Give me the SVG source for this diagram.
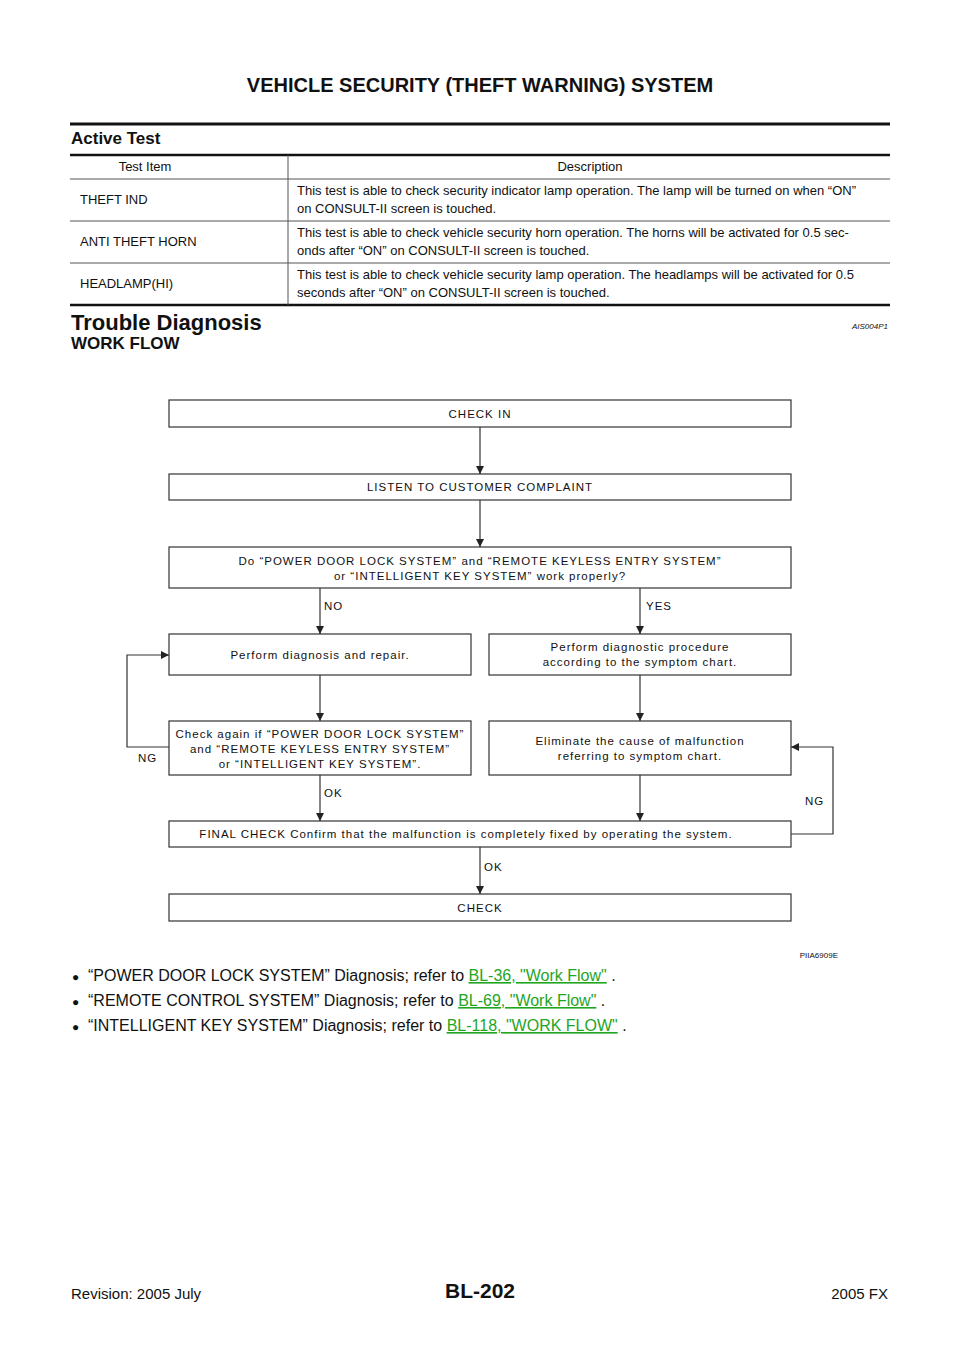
<svg xmlns="http://www.w3.org/2000/svg" width="960" height="1358" viewBox="0 0 960 1358">
<defs>
<marker id="ah" markerWidth="8" markerHeight="8" refX="8" refY="4" orient="auto" markerUnits="userSpaceOnUse"><path d="M0,0 L8,4 L0,8 Z" fill="#222"/></marker>
<style>
text{font-family:"Liberation Sans",Arial,sans-serif;fill:#111}
.b{font-weight:bold}
.t{font-size:13px}
.f{font-size:11.5px;letter-spacing:1px}
.box{fill:#fff;stroke:#333;stroke-width:1.2}
.c{fill:none;stroke:#333;stroke-width:1.2}
.link{fill:#1fa51f;text-decoration:underline}
</style>
</defs>
<rect width="960" height="1358" fill="#fff"/>
<text x="480" y="92" class="b" font-size="20" text-anchor="middle">VEHICLE SECURITY (THEFT WARNING) SYSTEM</text>
<line x1="70" y1="124" x2="890" y2="124" stroke="#111" stroke-width="3"/>
<text x="71" y="144" class="b" font-size="17">Active Test</text>
<line x1="70" y1="155" x2="890" y2="155" stroke="#111" stroke-width="2.5"/>
<line x1="70" y1="179" x2="890" y2="179" stroke="#555" stroke-width="1"/>
<line x1="70" y1="221" x2="890" y2="221" stroke="#555" stroke-width="1"/>
<line x1="70" y1="263" x2="890" y2="263" stroke="#555" stroke-width="1"/>
<line x1="70" y1="305" x2="890" y2="305" stroke="#111" stroke-width="2.5"/>
<line x1="288" y1="155" x2="288" y2="305" stroke="#555" stroke-width="1"/>
<text x="145" y="171" class="t" text-anchor="middle">Test Item</text>
<text x="590" y="171" class="t" text-anchor="middle">Description</text>
<text x="80" y="204" class="t">THEFT IND</text>
<text x="297" y="195" class="t">This test is able to check security indicator lamp operation. The lamp will be turned on when “ON”</text>
<text x="297" y="213" class="t">on CONSULT-II screen is touched.</text>
<text x="80" y="246" class="t">ANTI THEFT HORN</text>
<text x="297" y="237" class="t">This test is able to check vehicle security horn operation. The horns will be activated for 0.5 sec-</text>
<text x="297" y="255" class="t">onds after “ON” on CONSULT-II screen is touched.</text>
<text x="80" y="288" class="t">HEADLAMP(HI)</text>
<text x="297" y="279" class="t">This test is able to check vehicle security lamp operation. The headlamps will be activated for 0.5</text>
<text x="297" y="297" class="t">seconds after “ON” on CONSULT-II screen is touched.</text>
<text x="71" y="330" class="b" font-size="22">Trouble Diagnosis</text>
<text x="888" y="329" font-size="8" font-style="italic" text-anchor="end">AIS004P1</text>
<text x="71" y="349" class="b" font-size="17">WORK FLOW</text>

<g id="connectors">
<line class="c" x1="480" y1="427" x2="480" y2="474" marker-end="url(#ah)"/>
<line class="c" x1="480" y1="500" x2="480" y2="547" marker-end="url(#ah)"/>
<line class="c" x1="320" y1="588" x2="320" y2="634" marker-end="url(#ah)"/>
<line class="c" x1="640" y1="588" x2="640" y2="634" marker-end="url(#ah)"/>
<line class="c" x1="320" y1="675" x2="320" y2="721" marker-end="url(#ah)"/>
<line class="c" x1="640" y1="675" x2="640" y2="721" marker-end="url(#ah)"/>
<line class="c" x1="320" y1="775" x2="320" y2="821" marker-end="url(#ah)"/>
<line class="c" x1="640" y1="775" x2="640" y2="821" marker-end="url(#ah)"/>
<line class="c" x1="480" y1="847" x2="480" y2="894" marker-end="url(#ah)"/>
<polyline class="c" points="169,747 127,747 127,655 169,655" marker-end="url(#ah)"/>
<polyline class="c" points="791,834 833,834 833,747 791,747" marker-end="url(#ah)"/>
<text x="324" y="610" class="f">NO</text>
<text x="646" y="610" class="f">YES</text>
<text x="138" y="762" class="f">NG</text>
<text x="324" y="797" class="f">OK</text>
<text x="805" y="805" class="f">NG</text>
<text x="484" y="871" class="f">OK</text>
</g>
<g id="n1"><rect class="box" x="169" y="400" width="622" height="27"/><text x="480" y="418" class="f" text-anchor="middle">CHECK IN</text></g>
<g id="n2"><rect class="box" x="169" y="474" width="622" height="26"/><text x="480" y="491" class="f" text-anchor="middle">LISTEN TO CUSTOMER COMPLAINT</text></g>
<g id="n3"><rect class="box" x="169" y="547" width="622" height="41"/><text x="480" y="565" class="f" text-anchor="middle">Do “POWER DOOR LOCK SYSTEM” and “REMOTE KEYLESS ENTRY SYSTEM”</text><text x="480" y="580" class="f" text-anchor="middle">or “INTELLIGENT KEY SYSTEM” work properly?</text></g>
<g id="n4"><rect class="box" x="169" y="634" width="302" height="41"/><text x="320" y="659" class="f" text-anchor="middle">Perform diagnosis and repair.</text></g>
<g id="n5"><rect class="box" x="489" y="634" width="302" height="41"/><text x="640" y="651" class="f" text-anchor="middle">Perform diagnostic procedure</text><text x="640" y="666" class="f" text-anchor="middle">according to the symptom chart.</text></g>
<g id="n6"><rect class="box" x="169" y="721" width="302" height="54"/><text x="320" y="738" class="f" text-anchor="middle">Check again if “POWER DOOR LOCK SYSTEM”</text><text x="320" y="753" class="f" text-anchor="middle">and “REMOTE KEYLESS ENTRY SYSTEM”</text><text x="320" y="768" class="f" text-anchor="middle">or “INTELLIGENT KEY SYSTEM”.</text></g>
<g id="n7"><rect class="box" x="489" y="721" width="302" height="54"/><text x="640" y="745" class="f" text-anchor="middle">Eliminate the cause of malfunction</text><text x="640" y="760" class="f" text-anchor="middle">referring to symptom chart.</text></g>
<g id="n8"><rect class="box" x="169" y="821" width="622" height="26"/><text x="466" y="838" class="f" text-anchor="middle">FINAL CHECK Confirm that the malfunction is completely fixed by operating the system.</text></g>
<g id="n9"><rect class="box" x="169" y="894" width="622" height="27"/><text x="480" y="912" class="f" text-anchor="middle">CHECK</text></g>
<text x="838" y="958" font-size="8" text-anchor="end">PIIA6909E</text>

<text x="72" y="981" font-size="12">●</text>
<text x="88" y="981" font-size="16">“POWER DOOR LOCK SYSTEM” Diagnosis; refer to <tspan class="link">BL-36, "Work Flow"</tspan> .</text>
<text x="72" y="1006" font-size="12">●</text>
<text x="88" y="1006" font-size="16">“REMOTE CONTROL SYSTEM” Diagnosis; refer to <tspan class="link">BL-69, "Work Flow"</tspan> .</text>
<text x="72" y="1031" font-size="12">●</text>
<text x="88" y="1031" font-size="16">“INTELLIGENT KEY SYSTEM” Diagnosis; refer to <tspan class="link">BL-118, "WORK FLOW"</tspan> .</text>

<text x="71" y="1299" font-size="15">Revision: 2005 July</text>
<text x="480" y="1298" class="b" font-size="21" text-anchor="middle">BL-202</text>
<text x="888" y="1299" font-size="15" text-anchor="end">2005 FX</text>
</svg>
